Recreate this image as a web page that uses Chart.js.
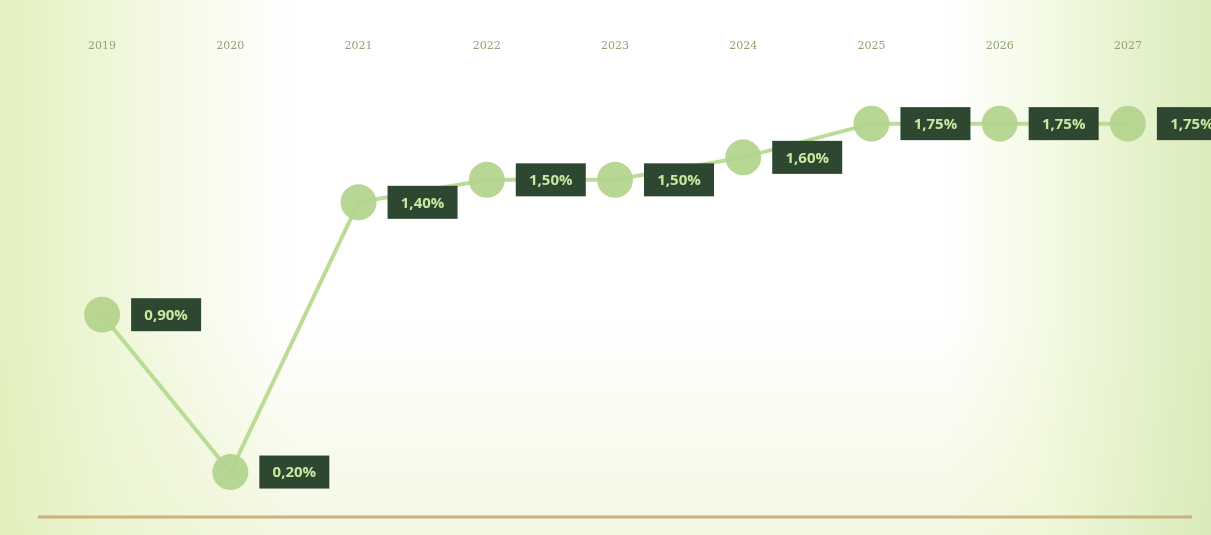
<!DOCTYPE html>
<html>
<head>
<meta charset="utf-8">
<title>Taxa 2019-2027</title>
<script src="https://cdn.jsdelivr.net/npm/chart.js@4.4.1/dist/chart.umd.min.js"></script>
<style>
  html, body { margin: 0; padding: 0; }
  body {
    width: 1211px; height: 535px; overflow: hidden;
    background:
      linear-gradient(90deg, rgba(222,238,180,0.85) 0%, rgba(232,243,200,0.7) 9%, rgba(255,255,250,0) 24%, rgba(255,255,250,0) 78%, rgba(238,247,212,0.6) 86%, rgba(214,234,180,0.9) 100%),
      linear-gradient(180deg, #ffffff 0%, #ffffff 60%, #f3f8e2 100%);
  }
  canvas { display: block; }
</style>
</head>
<body>
<canvas id="myChart" width="1211" height="535"></canvas>
<script>
const years = ['2019', '2020', '2021', '2022', '2023', '2024', '2025', '2026', '2027'];
const rates = [0.90, 0.20, 1.40, 1.50, 1.50, 1.60, 1.75, 1.75, 1.75];

const fmt = v => v.toFixed(2).replace('.', ',') + '%';

// dark value tags to the right of each marker, plus the brown base line
const tags = {
  id: 'tags',
  afterDatasetsDraw(chart) {
    const c = chart.ctx;
    const y = chart.scales.y;
    const area = chart.chartArea;
    const base = y.getPixelForValue(0);
    c.save();
    c.strokeStyle = '#c9b27e';
    c.lineWidth = 3;
    c.beginPath();
    c.moveTo(area.left, base);
    c.lineTo(area.right, base);
    c.stroke();

    const meta = chart.getDatasetMeta(0);
    c.font = 'bold 15px "Open Sans", sans-serif';
    c.textAlign = 'center';
    c.textBaseline = 'middle';
    meta.data.forEach((pt, i) => {
      const w = 70, h = 33;
      const bx = pt.x + 29, by = pt.y - h / 2;
      c.fillStyle = '#2d4731';
      c.fillRect(bx, by, w, h);
      c.fillStyle = '#c9e8a2';
      c.fillText(fmt(rates[i]), bx + w / 2, pt.y + 1);
    });
    c.restore();
  }
};

const ctx = document.getElementById('myChart');

new Chart(ctx, {
  type: 'line',
  data: {
    labels: years,
    datasets: [{
      data: rates,
      borderColor: 'rgba(180, 216, 140, 0.9)',
      borderWidth: 4,
      pointRadius: 18,
      pointBackgroundColor: 'rgba(180, 212, 142, 0.95)',
      pointBorderWidth: 0,
      tension: 0
    }]
  },
  options: {
    responsive: false,
    animation: false,
    layout: { padding: { left: 38, right: 19, top: 28, bottom: 18 } },
    plugins: {
      legend: { display: false },
      tooltip: { enabled: false }
    },
    scales: {
      x: {
        position: 'top',
        offset: true,
        grid: { display: false, drawTicks: false },
        border: { display: false },
        ticks: {
          color: '#93a274',
          padding: 12,
          font: { family: 'DejaVu Serif', size: 11 }
        }
      },
      y: {
        display: false,
        min: 0,
        max: 2.01
      }
    }
  },
  plugins: [tags]
});
</script>
</body>
</html>
